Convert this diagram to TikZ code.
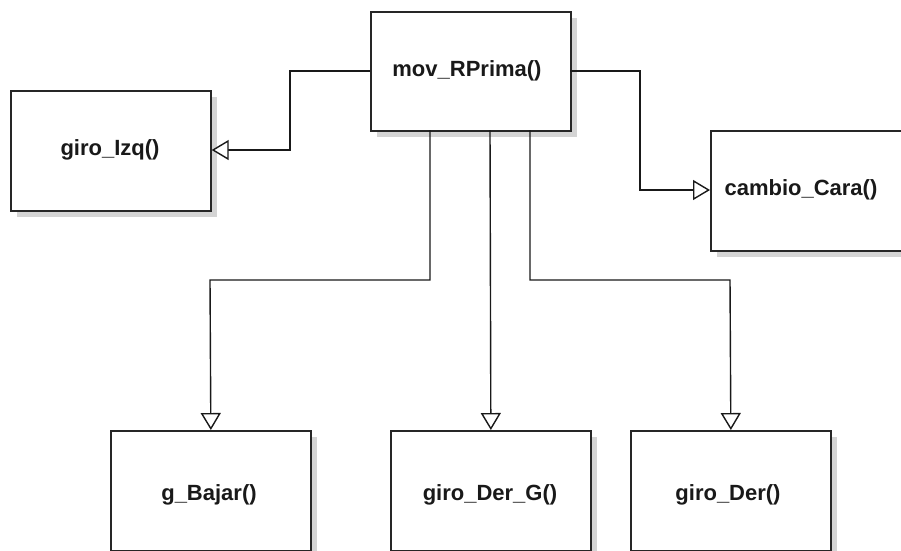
\documentclass[tikz,border=0pt]{standalone}
\usepackage{fontspec}
\setmainfont{Liberation Sans}
\usetikzlibrary{arrows.meta}
\begin{document}
\begin{tikzpicture}[x=1pt,y=-1pt,
  box/.style={draw=black!85,line width=1.7pt,fill=white,minimum width=200pt,minimum height=120pt,anchor=north west,inner sep=0pt},
  lbl/.style={font=\bfseries\fontsize{22}{26}\selectfont,text=black!90},
  conn/.style={draw=black!90,line width=1.4pt,-{Triangle[open,length=17pt,width=20pt,fill=white]}}]
\useasboundingbox (0,0) rectangle (901,550);
\clip (0,0) rectangle (901,550);
% shadows
\fill[black!17] (377,18) rectangle (577,137);
\fill[black!17] (17,97) rectangle (217,217);
\fill[black!17] (717,137) rectangle (917,257);
\fill[black!17] (117,437) rectangle (317,560);
\fill[black!17] (397,437) rectangle (597,560);
\fill[black!17] (637,437) rectangle (837,560);
% boxes
\node[box,minimum height=119pt] (mov) at (370,11) {};
\node[lbl] (tmov) at (467,71) {mov\_RPrima()};
\node[box] (izq) at (10,90) {};
\node[lbl] (tizq) at (110,150) {giro\_Izq()};
\node[box] (cara) at (710,130) {};
\node[lbl,anchor=west] (tcara) at (721,190) {cambio\_Cara()};
\node[box] (baj) at (110,430) {};
\node[lbl] (tbaj) at (209,495) {g\_Bajar()};
\node[box] (derg) at (390,430) {};
\node[lbl] (tderg) at (490,495) {giro\_Der\_G()};
\node[box] (der) at (630,430) {};
\node[lbl] (tder) at (728,495) {giro\_Der()};
% connectors
\coordinate (mL) at (370,71);
\coordinate (mR) at (570,71);
\coordinate (b1) at (430,130);
\coordinate (b2) at (490,130);
\coordinate (b3) at (530,130);
\draw[conn] (mL) -- (290,71) -- (290,150) -- (izq.east |- 0,150);
\draw[conn] (mR) -- (640,71) -- (640,190) -- (cara.west |- 0,190);
\draw[conn] (b1) -- (430,280) -- (210,280) -- (baj.north);
\draw[conn] (b2) -- (derg.north);
\draw[conn] (b3) -- (530,280) -- (730,280) -- (der.north);
\end{tikzpicture}
\end{document}
